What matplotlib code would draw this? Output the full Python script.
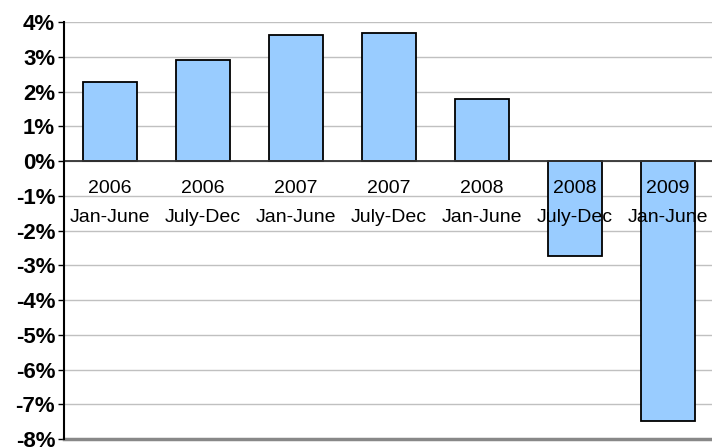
import numpy as np
from matplotlib import pyplot as plt

plt.rcParams['font.family'] = ['Liberation Sans', 'DejaVu Sans']

# half-year periods and percentage change
years = ['2006', '2006', '2007', '2007', '2008', '2008', '2009']
halves = ['Jan-June', 'July-Dec', 'Jan-June', 'July-Dec', 'Jan-June', 'July-Dec', 'Jan-June']
values = [2.27, 2.92, 3.62, 3.68, 1.78, -2.73, -7.47]
yticks = list(range(-8, 5))

fig = plt.figure(figsize=(7.12, 4.48), dpi=100)
ax = fig.add_axes([63.5 / 712, 9 / 448, 651 / 712, 417 / 448])

x = np.arange(len(values))
ax.bar(x, values, width=0.57, color='#99ccff', edgecolor='black', linewidth=1.3, zorder=2)

ax.set_xlim(-0.5, len(values) - 0.5)
ax.set_ylim(-8, 4)
ax.set_yticks(yticks)
ax.set_yticklabels(['%d%%' % t for t in yticks], fontsize=16, fontweight='bold')
ax.tick_params(axis='y', length=4, width=1, pad=2)
ax.set_xticks([])

# gridlines
for t in yticks:
    ax.axhline(t, color='#c0c0c0', linewidth=1, zorder=0)
ax.axhline(0, color='#333333', linewidth=1.3, zorder=2.5)
ax.axhline(-8, color='#888888', linewidth=2.5, zorder=2.5, clip_on=False)

for s in ['top', 'right', 'bottom']:
    ax.spines[s].set_visible(False)
ax.spines['left'].set_linewidth(1.5)

# category labels just under the zero line
for i in x:
    ax.text(i, -0.78, years[i], ha='center', va='center', fontsize=14, zorder=3)
    ax.text(i, -1.64, halves[i], ha='center', va='center', fontsize=14, zorder=3)

fig.savefig('out.png', dpi=100)
